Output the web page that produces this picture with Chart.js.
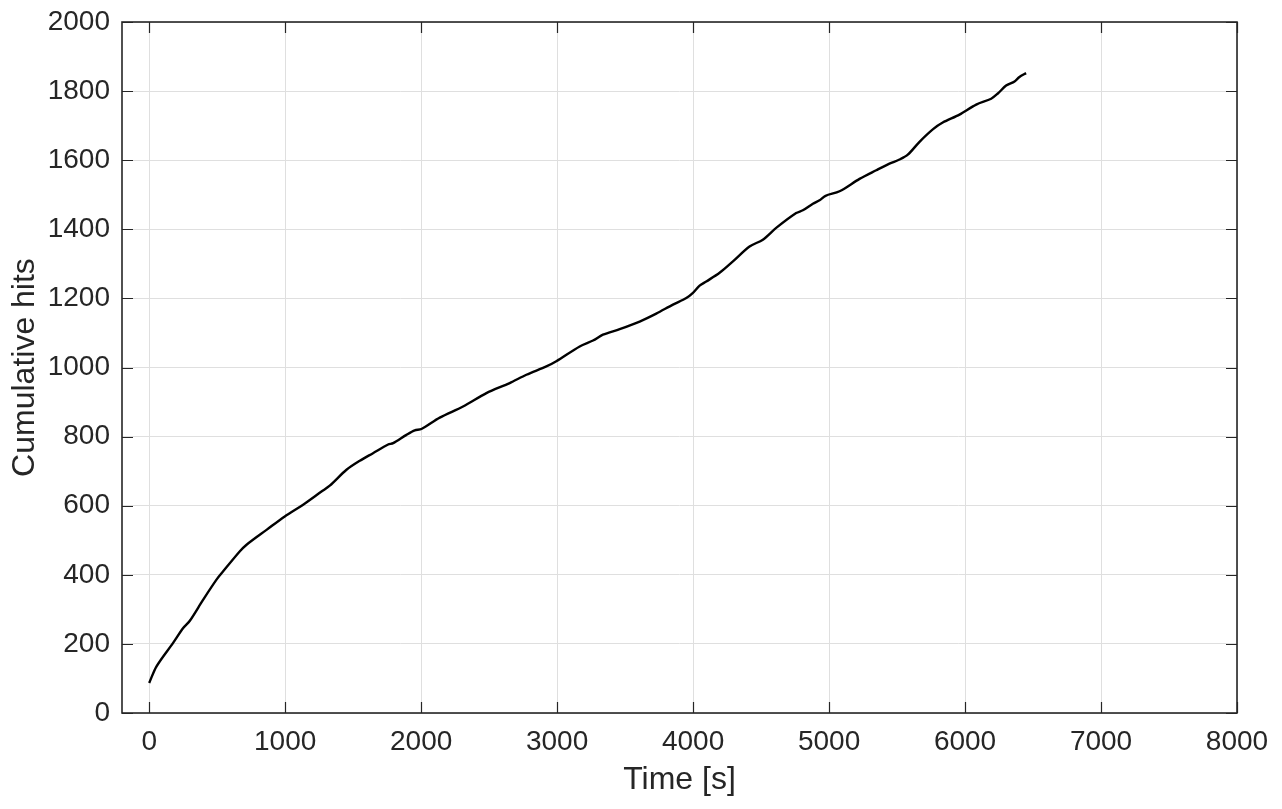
<!DOCTYPE html>
<html>
<head>
<meta charset="utf-8">
<script src="https://cdn.jsdelivr.net/npm/chart.js@4/dist/chart.umd.min.js"></script>
<style>
html,body{margin:0;padding:0;background:#fff;}
#wrap{width:1282px;height:809px;position:relative;}
</style>
</head>
<body>
<div id="wrap"><canvas id="c" width="1282" height="809"></canvas></div>
<script>
// Data
const timeS = [0, 54, 176, 250, 299, 397, 495, 544, 667, 716, 863, 997, 1132, 1267, 1328, 1451, 1549, 1646, 1757, 1794, 1892, 1953, 2002, 2137, 2308, 2480, 2651, 2774, 2921, 2994, 3166, 3264, 3337, 3460, 3607, 3729, 3852, 3950, 3999, 4048, 4097, 4195, 4293, 4415, 4513, 4611, 4758, 4807, 4881, 4930, 4974, 5077, 5224, 5347, 5444, 5518, 5579, 5667, 5765, 5836, 5959, 6082, 6192, 6241, 6302, 6364, 6400, 6449];
const hits  = [87, 135, 203, 246, 267, 328, 386, 410, 468, 487, 530, 569, 603, 641, 658, 704, 730, 752, 777, 781, 805, 818, 822, 855, 887, 926, 955, 979, 1003, 1018, 1061, 1078, 1095, 1111, 1133, 1156, 1182, 1201, 1216, 1237, 1249, 1274, 1307, 1350, 1370, 1404, 1447, 1455, 1474, 1484, 1497, 1510, 1546, 1571, 1590, 1602, 1616, 1654, 1690, 1709, 1732, 1761, 1778, 1793, 1816, 1828, 1841, 1852];
const xTicks = [0, 1000, 2000, 3000, 4000, 5000, 6000, 7000, 8000];
const yTicks = [0, 200, 400, 600, 800, 1000, 1200, 1400, 1600, 1800, 2000];
const xLabel = 'Time [s]';
const yLabel = 'Cumulative hits';

const AX = '#262626';
const GRID = '#dfdfdf';
const FONT = "'Liberation Sans', Arial, Helvetica, sans-serif";

const points = timeS.map((t, i) => ({x: t, y: hits[i]}));

const boxPlugin = {
  id: 'box',
  afterDraw(chart) {
    const {ctx, chartArea: a, scales} = chart;
    ctx.save();
    ctx.strokeStyle = AX;
    ctx.lineWidth = 1.2;
    ctx.beginPath();
    const tl = 11;
    scales.x.ticks.forEach(t => {
      const px = Math.round(scales.x.getPixelForValue(t.value)) + 0.5;
      ctx.moveTo(px, a.bottom); ctx.lineTo(px, a.bottom - tl);
      ctx.moveTo(px, a.top); ctx.lineTo(px, a.top + tl);
    });
    scales.y.ticks.forEach(t => {
      const py = Math.round(scales.y.getPixelForValue(t.value)) + 0.5;
      ctx.moveTo(a.left, py); ctx.lineTo(a.left + tl, py);
      ctx.moveTo(a.right, py); ctx.lineTo(a.right - tl, py);
    });
    ctx.stroke();
    ctx.lineWidth = 1.6;
    ctx.strokeRect(a.left, a.top, a.right - a.left, a.bottom - a.top);
    ctx.restore();
  }
};

new Chart(document.getElementById('c'), {
  type: 'line',
  data: {
    datasets: [{
      data: points,
      borderColor: '#000000',
      borderWidth: 2.4,
      pointRadius: 0,
      tension: 0.3,
      fill: false
    }]
  },
  options: {
    responsive: false,
    animation: false,
    layout: {padding: {left: 0, right: 45, top: 22, bottom: 0}},
    plugins: {legend: {display: false}, tooltip: {enabled: false}},
    scales: {
      x: {
        type: 'linear',
        min: -200, max: 8000,
        afterBuildTicks(s) { s.ticks = xTicks.map(v => ({value: v})); },
        afterFit(s) { s.height = 96; s.paddingLeft = 0; s.paddingRight = 0; },
        grid: {color: GRID, lineWidth: 1, drawTicks: false},
        border: {display: false},
        ticks: {color: AX, font: {family: FONT, size: 28}, padding: 12, maxRotation: 0, autoSkip: false,
                callback: v => String(v)},
        title: {display: true, text: xLabel, color: AX, font: {family: FONT, size: 32}, padding: {top: 0, bottom: 10}}
      },
      y: {
        type: 'linear',
        min: 0, max: 2000,
        afterBuildTicks(s) { s.ticks = yTicks.map(v => ({value: v})); },
        afterFit(s) { s.width = 122; s.paddingTop = 0; s.paddingBottom = 0; },
        grid: {color: GRID, lineWidth: 1, drawTicks: false},
        border: {display: false},
        ticks: {color: AX, font: {family: FONT, size: 28}, padding: 12, autoSkip: false,
                callback: v => String(v)},
        title: {display: true, text: yLabel, color: AX, font: {family: FONT, size: 32}, padding: {top: 6, bottom: 0}}
      }
    }
  },
  plugins: [boxPlugin]
});
</script>
</body>
</html>
